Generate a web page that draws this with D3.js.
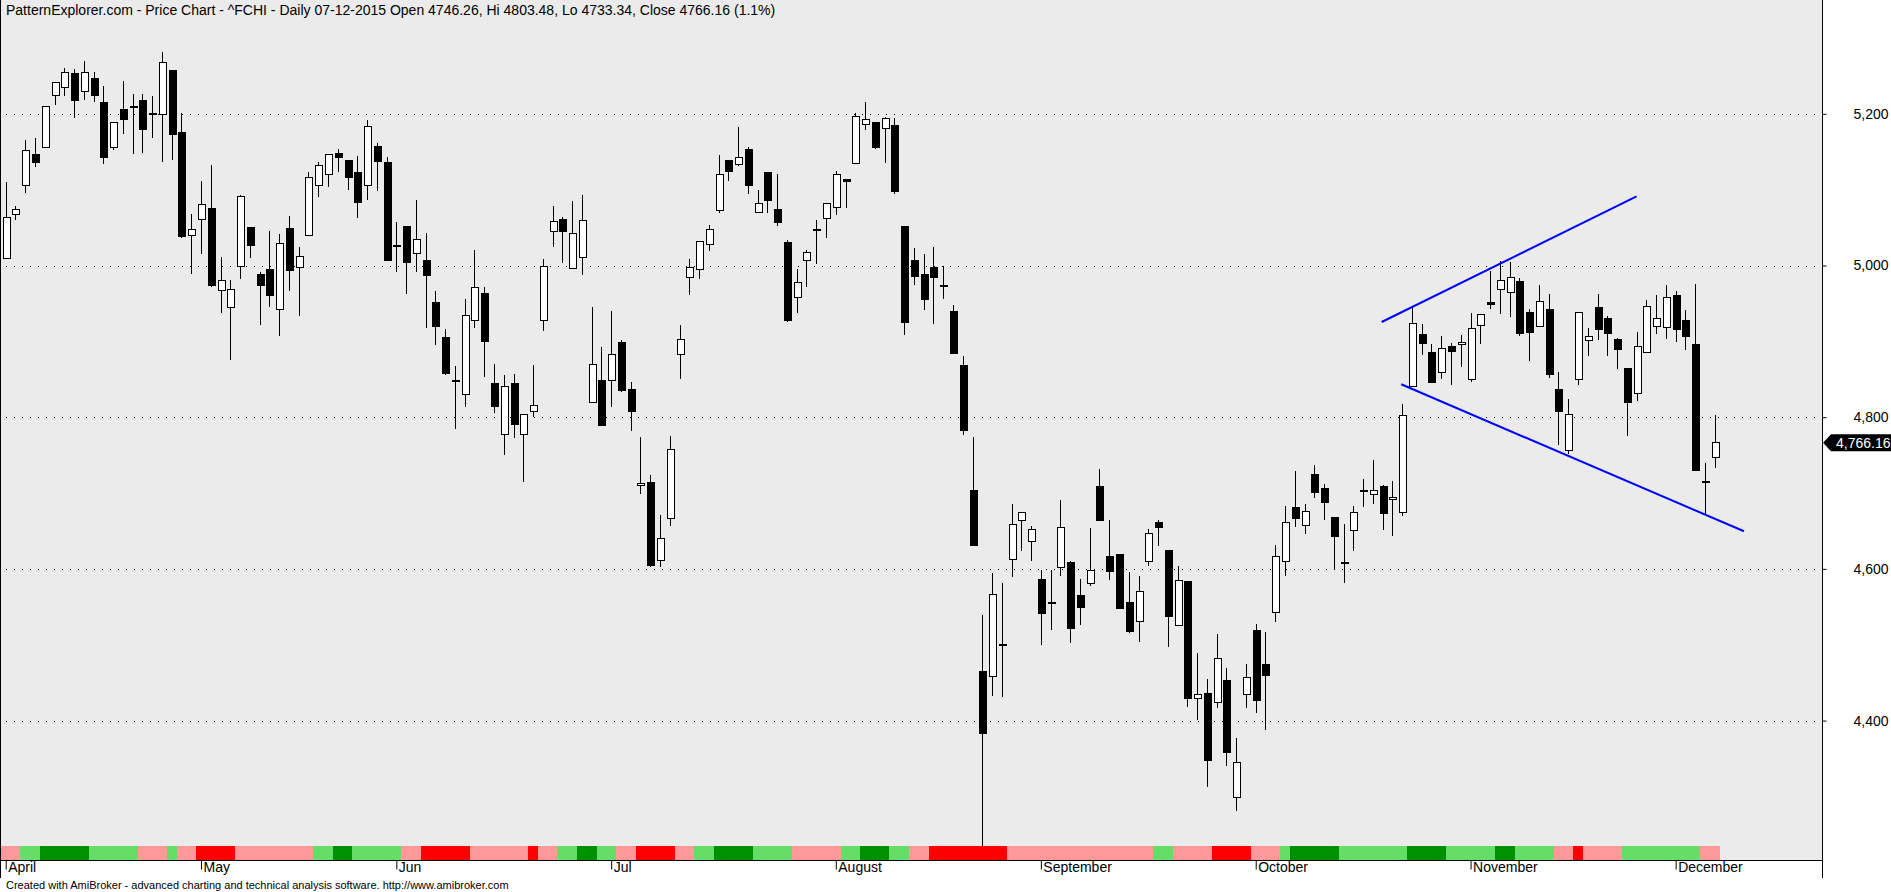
<!DOCTYPE html>
<html>
<head>
<meta charset="utf-8">
<script src="https://cdn.jsdelivr.net/npm/d3@7"></script>
<style>
  body { margin: 0; background: #fff; }
  svg { display: block; font-family: "Liberation Sans", Arial, sans-serif; }
</style>
</head>
<body>
<svg id="chart" width="1891" height="892"></svg>
<script>
// ^FCHI daily, 1 Apr 2015 .. 7 Dec 2015 (176 trading days)
var open = [5009,5067,5106,5147,5156,5224,5235,5253,5230,5246,5215,5155,5206,5210,5217,5201,5199,5257,5176,5040,
  5060,5075,4967,4945,4999,5050,4988,4995,4942,5049,4997,5040,5106,5120,5148,5139,5122,5106,5157,5136,
  5027,5052,5016,5006,4951,4905,4849,4830,4927,4963,4844,4777,4844,4777,4807,4927,5045,5060,4996,5010,
  4820,4849,4848,4898,4836,4710,4714,4611,4667,4883,4984,4995,5028,5072,5139,5133,5153,5070,5122,5074,
  5030,4958,5006,5048,5062,5077,5113,5135,5186,5188,5180,5185,5051,5006,4988,4997,4973,4939,4868,4704,
  4465,4458,4500,4612,4664,4636,4586,4556,4602,4608,4565,4581,4708,4616,4619,4556,4530,4610,4661,4624,
  4526,4583,4429,4436,4424,4453,4299,4434,4519,4474,4543,4610,4681,4657,4724,4706,4668,4609,4651,4703,
  4698,4708,4691,4675,4840,4909,4885,4859,4893,4896,4850,4921,4951,4969,4965,4979,4938,4920,4942,4836,
  4756,4850,4901,4944,4930,4902,4864,4831,4885,4920,4918,4961,4927,4896,4715,4746.26];
var high = [5110,5078,5166,5168,5209,5241,5260,5259,5269,5255,5237,5188,5243,5226,5226,5224,5282,5257,5201,5068,
  5112,5132,5011,4981,5093,5050,4991,5045,5042,5065,5024,5123,5137,5147,5154,5139,5145,5192,5162,5143,
  5058,5052,5087,5043,4966,4916,4868,4956,5021,4971,4870,4856,4857,4804,4869,5009,5078,5064,5085,5093,
  4945,4892,4940,4902,4846,4774,4724,4671,4775,4921,5008,5032,5053,5146,5139,5183,5156,5100,5122,5120,
  5033,4995,5021,5060,5082,5125,5113,5201,5216,5189,5196,5194,5051,5023,5015,5024,5000,4948,4881,4774,
  4539,4594,4581,4686,4675,4656,4599,4599,4691,4611,4587,4654,4732,4665,4619,4596,4591,4653,4665,4624,
  4604,4583,4489,4455,4514,4470,4377,4474,4528,4517,4631,4683,4729,4686,4737,4712,4668,4659,4683,4718,
  4744,4711,4716,4817,4944,4923,4896,4907,4898,4909,4937,4936,4993,5006,5004,4983,4942,4974,4963,4860,
  4824,4938,4917,4962,4934,4905,4864,4912,4955,4961,4974,4967,4941,4975,4740,4803.48];
var low = [5008,5060,5096,5130,5155,5212,5224,5195,5218,5216,5134,5152,5173,5147,5148,5168,5136,5139,5036,4989,
  5015,4971,4937,4876,4982,5010,4922,4945,4907,4966,4933,5040,5090,5104,5123,5099,5063,5087,5098,5007,
  4991,4962,4992,4917,4895,4856,4785,4813,4918,4853,4806,4750,4773,4714,4800,4913,5024,5003,4996,4987,
  4820,4789,4814,4833,4782,4699,4603,4603,4656,4851,4961,4982,5019,5069,5111,5131,5094,5070,5069,5052,
  4925,4938,4971,5002,5036,5066,5076,5135,5179,5153,5135,5094,4908,4974,4941,4923,4956,4884,4776,4631,
  4228,4433,4431,4589,4624,4610,4500,4519,4590,4502,4526,4577,4664,4585,4547,4516,4503,4604,4630,4497,
  4526,4418,4401,4312,4416,4340,4281,4416,4410,4388,4530,4590,4655,4646,4694,4664,4599,4581,4623,4681,
  4685,4651,4644,4670,4840,4882,4846,4850,4843,4866,4846,4897,4943,4936,4932,4907,4874,4920,4852,4763,
  4752,4842,4881,4902,4881,4863,4775,4822,4885,4910,4903,4899,4889,4730,4673,4733.34];
var close = [5063,5074,5151,5136,5209,5241,5254,5218,5254,5224,5143,5188,5192,5210,5179,5201,5268,5173,5038,5047,
  5081,4974,4980,4968,5091,5026,4974,4961,5029,4993,5012,5116,5132,5147,5143,5116,5083,5183,5137,5007,
  5027,5004,5034,4987,4920,4857,4849,4934,4971,4900,4814,4840,4791,4803,4815,4999,5058,5045,5042,5059,
  4870,4789,4883,4835,4807,4712,4605,4640,4757,4903,4998,5032,5047,5120,5124,5142,5106,5082,5086,5057,
  4927,4977,5017,5046,5082,5120,5111,5196,5192,5155,5194,5097,4925,4986,4955,4984,4973,4884,4783,4631,
  4383,4566,4500,4658,4675,4652,4541,4556,4654,4522,4549,4598,4664,4597,4548,4517,4570,4647,4655,4537,
  4585,4429,4434,4348,4482,4358,4345,4457,4427,4459,4617,4661,4667,4676,4701,4688,4643,4609,4675,4703,
  4704,4673,4694,4802,4923,4897,4846,4890,4887,4898,4917,4936,4948,4980,4984,4911,4912,4952,4856,4808,
  4804,4938,4907,4915,4911,4889,4820,4893,4946,4930,4958,4915,4906,4730,4715,4766.16];

// month labels on the first trading day of each month
var monthNames = ["April", "May", "Jun", "Jul", "August", "September", "October", "November", "December"];
var monthStart = [0, 20, 40, 62, 85, 106, 128, 150, 171];

// price axis ticks
var priceTicks = [4400, 4600, 4800, 5000, 5200];

// bottom ribbon: run lengths (bars) and state of each run
var ribbonLength = [2,2,5,5,3,1,2,4,8,2,2,5,2,5,6,1,2,2,2,2,2,4,2,2,4,4,5,2,3,2,2,8,15,2,4,4,3,1,5,7,4,5,2,4,2,1,4,8,2];
var ribbonState = ["dn","up","UP","up","dn","up","dn","DN","dn","up","UP","up","dn","DN","dn","DN","dn","up","UP","up",
  "dn","DN","dn","up","UP","up","dn","up","UP","up","dn","DN","dn","up","dn","DN","dn","up","UP","up",
  "UP","up","UP","up","dn","DN","dn","up","dn"];

// hand drawn trend lines: [bar index, price]
var trendUpper = [[140.9, 4925.5], [167.0, 5091]];
var trendLower = [[142.9, 4843.4], [178.0, 4649.6]];

var title = "PatternExplorer.com - Price Chart - ^FCHI - Daily 07-12-2015 Open 4746.26, Hi 4803.48, Lo 4733.34, Close 4766.16 (1.1%)";
var footer = "Created with AmiBroker - advanced charting and technical analysis software. http://www.amibroker.com";

var W = 1891, H = 892,
    plotRight = 1822, plotBottom = 860;

var svg = d3.select("#chart");

var x = d3.scaleLinear().domain([0, 175]).range([5.7, 1714.7]);
var y = d3.scaleLinear().domain([4400, 5200]).range([720.6, 113.8]);
var step = x(1) - x(0);

// plot background
svg.append("rect")
  .attr("x", 0).attr("y", 0)
  .attr("width", plotRight).attr("height", plotBottom)
  .attr("fill", "#ebebeb");

// dotted grid
svg.append("g").selectAll("line")
  .data(priceTicks)
  .enter().append("line")
  .attr("x1", 6).attr("x2", plotRight)
  .attr("y1", d => Math.round(y(d)) + 0.5)
  .attr("y2", d => Math.round(y(d)) + 0.5)
  .attr("stroke", "#000")
  .attr("stroke-dasharray", "1,7");

// candles
var bars = d3.range(open.length);
var candles = svg.append("g").attr("shape-rendering", "crispEdges");

candles.selectAll("line")
  .data(bars)
  .enter().append("line")
  .attr("x1", i => Math.round(x(i)) + 0.5)
  .attr("x2", i => Math.round(x(i)) + 0.5)
  .attr("y1", i => y(high[i]))
  .attr("y2", i => y(low[i]))
  .attr("stroke", "#000")
  .attr("stroke-width", 1);

candles.selectAll("rect")
  .data(bars)
  .enter().append("rect")
  .attr("x", i => Math.round(x(i)) - 3)
  .attr("width", 7)
  .attr("y", i => y(Math.max(open[i], close[i])))
  .attr("height", i => Math.max(1, Math.abs(y(open[i]) - y(close[i]))))
  .attr("fill", i => close[i] > open[i] ? "#fff" : "#000")
  .attr("stroke", "#000")
  .attr("stroke-width", 1);

// trend lines
var line = d3.line().x(d => x(d[0])).y(d => y(d[1]));
svg.selectAll(".trend")
  .data([trendUpper, trendLower])
  .enter().append("path")
  .attr("class", "trend")
  .attr("d", line)
  .attr("fill", "none")
  .attr("stroke", "#0000ff")
  .attr("stroke-width", 2);

// ribbon
var ribbonColor = { dn: "#ff9999", DN: "#ff0000", up: "#66dd66", UP: "#009100" };
var runs = [], start = 0;
ribbonLength.forEach(function(n, k) {
  runs.push({ from: start, to: start + n, state: ribbonState[k] });
  start += n;
});
svg.append("g").attr("shape-rendering", "crispEdges")
  .selectAll("rect")
  .data(runs)
  .enter().append("rect")
  .attr("x", d => Math.round(x(d.from) - step / 2))
  .attr("width", d => Math.round(x(d.to) - step / 2) - Math.round(x(d.from) - step / 2))
  .attr("y", 846)
  .attr("height", plotBottom - 846)
  .attr("fill", d => ribbonColor[d.state]);

// frame lines
svg.append("line")
  .attr("x1", 0.5).attr("x2", 0.5).attr("y1", 0).attr("y2", 878)
  .attr("stroke", "#000");
svg.append("line")
  .attr("x1", plotRight + 0.5).attr("x2", plotRight + 0.5).attr("y1", 0).attr("y2", 878)
  .attr("stroke", "#000");
svg.append("line")
  .attr("x1", 0).attr("x2", plotRight).attr("y1", plotBottom + 0.5).attr("y2", plotBottom + 0.5)
  .attr("stroke", "#000");

// price axis
var yAxis = d3.axisRight(y)
  .tickValues(priceTicks)
  .tickSize(4)
  .tickFormat(d3.format(","));
var yg = svg.append("g")
  .attr("transform", "translate(" + (plotRight + 0.5) + ",0)")
  .call(yAxis);
yg.select(".domain").remove();
yg.selectAll("text")
  .attr("x", 66)
  .attr("text-anchor", "end")
  .attr("font-size", 14)
  .attr("font-family", "Liberation Sans, Arial, sans-serif")
  .attr("fill", "#000");

// last price marker
var lastY = y(close[close.length - 1]);
svg.append("path")
  .attr("d", "M" + (plotRight + 1) + "," + lastY +
    "L" + (plotRight + 9) + "," + (lastY - 8.5) +
    "L" + W + "," + (lastY - 8.5) +
    "L" + W + "," + (lastY + 8.5) +
    "L" + (plotRight + 9) + "," + (lastY + 8.5) + "Z")
  .attr("fill", "#000");
svg.append("text")
  .attr("x", plotRight + 14)
  .attr("y", lastY + 5)
  .attr("font-size", 14)
  .attr("fill", "#fff")
  .text(d3.format(",.2f")(close[close.length - 1]));

// month axis
var xAxis = d3.axisBottom(x)
  .tickValues(monthStart)
  .tickSize(9)
  .tickFormat((d, k) => monthNames[k]);
var xg = svg.append("g")
  .attr("transform", "translate(0," + (plotBottom + 0.5) + ")")
  .call(xAxis);
xg.select(".domain").remove();
xg.selectAll("text")
  .attr("text-anchor", "start")
  .attr("x", 2)
  .attr("y", 2)
  .attr("dy", "0.71em")
  .attr("font-size", 14)
  .attr("font-family", "Liberation Sans, Arial, sans-serif")
  .attr("fill", "#000");

// title and footer
svg.append("text")
  .attr("x", 6).attr("y", 15)
  .attr("font-size", 14)
  .attr("fill", "#000")
  .text(title);
svg.append("text")
  .attr("x", 6).attr("y", 889)
  .attr("font-size", 11)
  .attr("fill", "#000")
  .text(footer);
</script>
</body>
</html>
